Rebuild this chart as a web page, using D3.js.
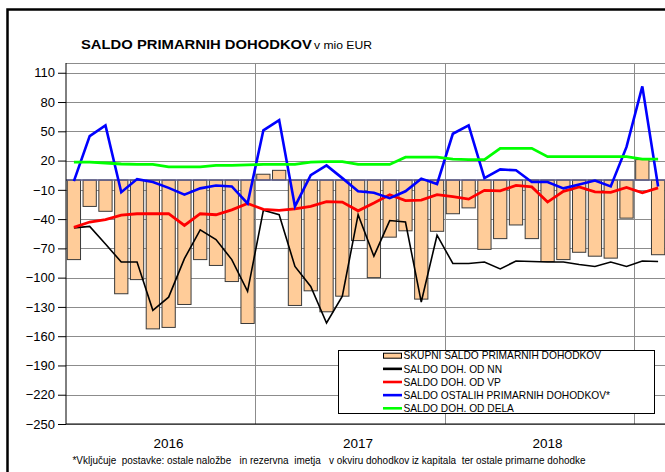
<!DOCTYPE html>
<html>
<head>
<meta charset="utf-8">
<script src="https://cdn.jsdelivr.net/npm/d3@7"></script>
<style>
  html, body { margin: 0; padding: 0; background: #fff; }
  svg { display: block; }
</style>
</head>
<body>
<div id="chart"></div>
<script>
// ── Data ────────────────────────────────────────────────────
const periods = [
  '2016-01','2016-02','2016-03','2016-04','2016-05','2016-06','2016-07','2016-08','2016-09','2016-10','2016-11','2016-12',
  '2017-01','2017-02','2017-03','2017-04','2017-05','2017-06','2017-07','2017-08','2017-09','2017-10','2017-11','2017-12',
  '2018-01','2018-02','2018-03','2018-04','2018-05','2018-06','2018-07','2018-08','2018-09','2018-10','2018-11','2018-12',
  '2019-01','2019-02'
];
const yearLabels = ['2016', '2017', '2018'];
const yTicks = [-250, -220, -190, -160, -130, -100, -70, -40, -10, 20, 50, 80, 110];

// SKUPNI SALDO PRIMARNIH DOHODKOV (bars)
const skupni = [
  -81.5, -27, -32, -116.5, -102, -152.5, -151, -127.5, -81.5, -87.5, -104, -147,
  6, 10, -128.5, -113.5, -135, -119, -62, -100, -58.5, -52, -122, -52.5,
  -34.5, -28.5, -71, -60, -46, -60, -83.5, -81.5, -74, -78, -80, -39,
  21, -76.5
];
// SALDO DOH. OD NN
const dohNN = [
  -49, -47.5, -65.5, -84, -84, -133.5, -120, -80.5, -51, -61, -81.5, -114,
  -31, -35.5, -88.5, -109, -146.5, -119, -35.5, -78, -41.5, -43, -125, -56.5,
  -85.5, -85.5, -84, -91, -83, -83.5, -84, -84, -86.5, -88.5, -84, -88.5,
  -83, -83.5
];
// SALDO DOH. OD VP
const dohVP = [
  -48.5, -43, -40.5, -36, -34.5, -34.5, -34.5, -46.5, -34.5, -35.5, -30.5, -24,
  -30, -31, -29.5, -27, -22, -22.5, -31.5, -23.5, -15, -21, -20.5, -15,
  -17, -19.5, -10.5, -11, -5.5, -7, -22.5, -11.5, -7, -12, -12.5, -7.5,
  -13, -8
];
// SALDO OSTALIH PRIMARNIH DOHODKOV*
const ostali = [
  -1, 45, 56, -12.5, 1, -2, -8, -15, -8.5, -5.5, -6.5, -24,
  51, 61.5, -27, 5, 15, 2, -11.5, -13, -18.5, -11.5, 1.5, -4,
  47.5, 56, 2, 11, 10, -2, -2, -8.5, -4.5, -0.5, -6.5, 34,
  96, -6.5
];
// SALDO DOH. OD DELA
const dela = [
  18.5, 18.5, 17.5, 16.5, 16, 16, 13.5, 13.5, 13.5, 15, 15, 15.5,
  16, 16, 16, 18.5, 19, 19, 16, 16, 16, 23.5, 23.5, 23.5,
  21.5, 21, 21, 32.5, 32.5, 32.5, 24, 24, 24, 24, 24, 24,
  21.5, 21.5
];

const lineSeries = [
  { name: 'SALDO DOH. OD NN',                  values: dohNN,  color: '#000000', width: 1.6 },
  { name: 'SALDO DOH. OD VP',                  values: dohVP,  color: '#ff0000', width: 2.8 },
  { name: 'SALDO OSTALIH PRIMARNIH DOHODKOV*', values: ostali, color: '#0000ff', width: 2.6 },
  { name: 'SALDO DOH. OD DELA',                values: dela,   color: '#00ff00', width: 2.8 }
];

// ── Layout ──────────────────────────────────────────────────
const width = 665, height = 472;
const plot = { left: 66, right: 666, top: 63, bottom: 424 };
const font = "'Liberation Sans', Arial, sans-serif";

const svg = d3.select('#chart')
  .append('svg')
  .attr('width', width)
  .attr('height', height);

// outer frame (cut off right and bottom in the original)
svg.append('rect')
  .attr('x', 7.5).attr('y', 9.5)
  .attr('width', 700).attr('height', 500)
  .attr('fill', 'none')
  .attr('stroke', '#000')
  .attr('stroke-width', 2.5);

// ── Scales ──────────────────────────────────────────────────
const x = d3.scaleBand()
  .domain(periods)
  .range([plot.left, plot.right])
  .paddingInner(0.16)
  .paddingOuter(0.08);

const y = d3.scaleLinear()
  .domain([-250, 120])
  .range([plot.bottom, plot.top]);

const cx = d => x(d) + x.bandwidth() / 2;

// ── Gridlines ───────────────────────────────────────────────
svg.append('g')
  .selectAll('line')
  .data(yTicks.concat([120]))
  .join('line')
  .attr('x1', plot.left).attr('x2', plot.right)
  .attr('y1', d => Math.round(y(d)) + 0.5).attr('y2', d => Math.round(y(d)) + 0.5)
  .attr('stroke', '#8c8c8c')
  .attr('stroke-width', 1);

// year separators
const yearStarts = periods.filter(p => p.endsWith('-01') && p !== periods[0]);
svg.append('g')
  .selectAll('line')
  .data(yearStarts)
  .join('line')
  .attr('x1', d => Math.round(x(d) - x.step() * 0.08) + 0.5)
  .attr('x2', d => Math.round(x(d) - x.step() * 0.08) + 0.5)
  .attr('y1', plot.top).attr('y2', plot.bottom)
  .attr('stroke', '#8c8c8c')
  .attr('stroke-width', 1);

// ── Bars ────────────────────────────────────────────────────
svg.append('g')
  .selectAll('rect')
  .data(periods)
  .join('rect')
  .attr('x', d => x(d))
  .attr('width', x.bandwidth())
  .attr('y', (d, i) => y(Math.max(0, skupni[i])))
  .attr('height', (d, i) => Math.abs(y(skupni[i]) - y(0)))
  .attr('fill', '#ffcc99')
  .attr('stroke', '#3a3a3a')
  .attr('stroke-width', 1);

// zero axis
svg.append('line')
  .attr('x1', plot.left).attr('x2', plot.right)
  .attr('y1', y(0)).attr('y2', y(0))
  .attr('stroke', '#5c5c8c')
  .attr('stroke-width', 1.5);

// ── Lines ───────────────────────────────────────────────────
lineSeries.forEach(s => {
  const line = d3.line()
    .x((d, i) => cx(periods[i]))
    .y(d => y(d));

  svg.append('path')
    .datum(s.values)
    .attr('fill', 'none')
    .attr('stroke', s.color)
    .attr('stroke-width', s.width)
    .attr('stroke-linejoin', 'miter')
    .attr('d', line);
});

// ── Axes ────────────────────────────────────────────────────
const yAxis = svg.append('g')
  .attr('transform', `translate(${plot.left},0)`)
  .call(d3.axisLeft(y).tickValues(yTicks).tickSize(8).tickPadding(3));

yAxis.selectAll('text')
  .attr('font-family', font)
  .attr('font-size', '13px')
  .attr('fill', '#000');
yAxis.selectAll('.tick line').attr('stroke', '#000');
yAxis.select('.domain').attr('stroke', '#000').attr('d', `M0,${plot.top}V${plot.bottom}`);

// bottom axis line
svg.append('line')
  .attr('x1', plot.left).attr('x2', plot.right)
  .attr('y1', plot.bottom).attr('y2', plot.bottom)
  .attr('stroke', '#000')
  .attr('stroke-width', 1);

// year labels, centred on the 7th month of each year
svg.append('g')
  .selectAll('text')
  .data(yearLabels)
  .join('text')
  .attr('x', d => cx(d + '-07') - x.step() / 2 + x.step() / 2)
  .attr('y', 448)
  .attr('text-anchor', 'middle')
  .attr('font-family', font)
  .attr('font-size', '13.5px')
  .text(d => d);

// ── Title ───────────────────────────────────────────────────
svg.append('text')
  .attr('x', 81).attr('y', 49)
  .attr('font-family', font)
  .attr('font-size', '13.5px')
  .attr('font-weight', 'bold')
  .attr('textLength', 231)
  .attr('lengthAdjust', 'spacingAndGlyphs')
  .text('SALDO PRIMARNIH DOHODKOV');

svg.append('text')
  .attr('x', 314).attr('y', 49)
  .attr('font-family', font)
  .attr('font-size', '11px')
  .attr('textLength', 58)
  .attr('lengthAdjust', 'spacingAndGlyphs')
  .text('v mio EUR');

// ── Legend ──────────────────────────────────────────────────
const legend = svg.append('g');

legend.append('rect')
  .attr('x', 338.5).attr('y', 350.5)
  .attr('width', 316).attr('height', 63)
  .attr('fill', '#fff')
  .attr('stroke', '#000')
  .attr('stroke-width', 1);

const legendItems = [{ name: 'SKUPNI SALDO PRIMARNIH DOHODKOV', bar: true }].concat(lineSeries);
const rowY = i => 355.7 + i * 13.15;

legendItems.forEach((s, i) => {
  if (s.bar) {
    legend.append('rect')
      .attr('x', 383.5).attr('y', rowY(i) - 2.5)
      .attr('width', 18).attr('height', 5)
      .attr('fill', '#ffcc99')
      .attr('stroke', '#000')
      .attr('stroke-width', 1);
  } else {
    legend.append('line')
      .attr('x1', 383).attr('x2', 402)
      .attr('y1', rowY(i)).attr('y2', rowY(i))
      .attr('stroke', s.color)
      .attr('stroke-width', 2.6);
  }
  legend.append('text')
    .attr('x', 403.5)
    .attr('y', rowY(i) + 3.7)
    .attr('font-family', font)
    .attr('font-size', '10.2px')
    .text(s.name);
});

// ── Footnote ────────────────────────────────────────────────
svg.append('text')
  .attr('x', 72.5).attr('y', 464)
  .attr('font-family', font)
  .attr('font-size', '10px')
  .attr('textLength', 513)
  .attr('lengthAdjust', 'spacingAndGlyphs')
  .style('white-space', 'pre')
  .text('*Vključuje  postavke: ostale naložbe   in rezervna  imetja   v okviru dohodkov iz kapitala  ter ostale primarne dohodke');
</script>
</body>
</html>
